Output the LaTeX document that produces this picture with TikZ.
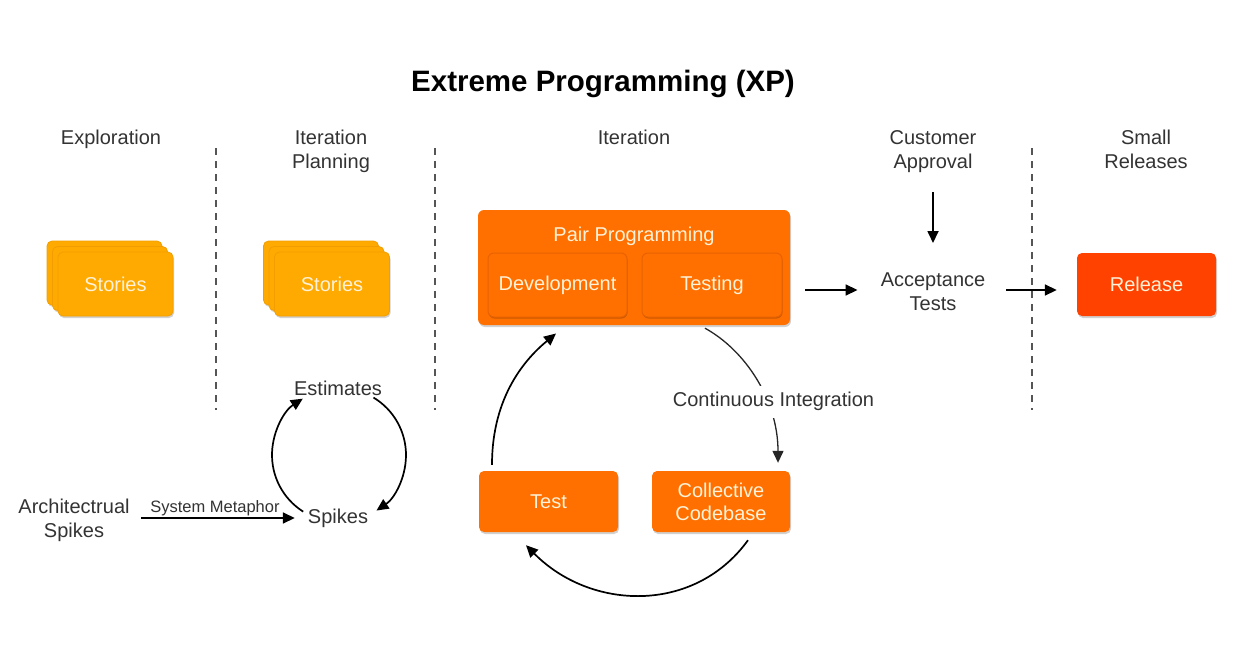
\documentclass[tikz,border=0pt]{standalone}
\usepackage{fontspec}
\setmainfont{Liberation Sans}
\usetikzlibrary{arrows.meta,shadows,calc}
\definecolor{storyc}{HTML}{FFAA00}
\definecolor{storyd}{HTML}{F29E00}
\definecolor{orangec}{HTML}{FF7000}
\definecolor{oranged}{HTML}{E86200}
\definecolor{relc}{HTML}{FF4200}
\definecolor{boxtxt}{HTML}{FFF2D8}
\definecolor{txtc}{HTML}{333333}
\definecolor{sepc}{HTML}{555555}
\begin{document}
\begin{tikzpicture}[x=1pt,y=1pt,
  lbl/.style={text=txtc, font=\fontsize{20}{24}\selectfont, align=center, inner sep=0pt},
  shad/.style={drop shadow={shadow xshift=1pt, shadow yshift=-2pt, fill=black, opacity=0.18}},
  card/.style={rounded corners=5pt, fill=storyc, draw=storyd, line width=0.8pt, minimum width=115pt, minimum height=64pt, text=boxtxt, font=\fontsize{20}{24}\selectfont, inner sep=0pt, shad},
  ppbox/.style={rounded corners=6pt, fill=orangec, minimum width=312pt, minimum height=115pt, inner sep=0pt, shad},
  inbox/.style={rounded corners=6pt, fill=orangec, draw=oranged, line width=1pt, minimum width=139pt, minimum height=64pt, text=boxtxt, font=\fontsize{20}{24}\selectfont, inner sep=0pt, drop shadow={shadow xshift=0.5pt, shadow yshift=-1.5pt, fill=black, opacity=0.2}},
  cbox/.style={rounded corners=5pt, fill=orangec, minimum width=139pt, minimum height=61pt, text=boxtxt, font=\fontsize{20}{23}\selectfont, align=center, inner sep=0pt, shad},
  relbox/.style={rounded corners=5pt, fill=relc, minimum width=139pt, minimum height=63pt, text=boxtxt, font=\fontsize{20}{24}\selectfont, inner sep=0pt, shad},
  arr/.style={-{Triangle[length=12pt,width=11pt]}, line width=1.7pt, black},
  thinarr/.style={-{Triangle[length=12pt,width=11pt]}, line width=1.3pt, black!85},
  sepline/.style={sepc, line width=1.3pt, dash pattern=on 7pt off 6pt}
]
\useasboundingbox (0,0) rectangle (1247,-661);
\fill[white] (0,0) rectangle (1247,-661);

% title and phase labels
\node[lbl, anchor=base, text=black] (title) at (603,-91) {\fontsize{29.5}{34}\selectfont\bfseries Extreme Programming (XP)};
\node[lbl, anchor=base] (explo) at (111,-144) {Exploration};
\node[lbl, anchor=base] (itplan) at (331,-168) {Iteration\\Planning};
\node[lbl, anchor=base] (iter) at (634,-144) {Iteration};
\node[lbl, anchor=base] (cust) at (933,-168) {Customer\\Approval};
\node[lbl, anchor=base] (small) at (1146,-168) {Small\\Releases};

% separators
\draw[sepline] (216,-148) -- (216,-410);
\draw[sepline] (435,-148) -- (435,-410);
\draw[sepline] (1032,-148) -- (1032,-410);

% stories stacks
\node[card] (s1c) at (104.5,-273) {};
\node[card] (s1b) at (110,-278.5) {};
\node[card] (s1) at (115.5,-284) {Stories};
\node[card] (s2c) at (321,-273) {};
\node[card] (s2b) at (326.5,-278.5) {};
\node[card] (s2) at (332,-284) {Stories};

% pair programming
\node[ppbox] (pp) at (634,-267.5) {};
\node[lbl, text=boxtxt] (pptitle) at (634,-236) {Pair Programming};
\node[inbox] (dev) at (557.5,-285) {Development};
\node[inbox, minimum width=140pt] (testing) at (712,-285) {Testing};

% acceptance and release
\node[lbl, anchor=base] (acc) at (933,-310) {Acceptance\\Tests};
\node[relbox] (rel) at (1146.5,-284.5) {Release};
\draw[arr] ([xshift=15pt,yshift=-22.5pt]pp.east) -- ($(acc.base west)+(-23,20)$);
\draw[arr] ($(cust.base)+(0,-24)$) -- ($(acc.base)+(0,67)$);
\draw[arr] ($(acc.base east)+(21,20)$) -- ($(rel.west)+(-20,-5.5)$);

% estimates / spikes loop
\node[lbl, anchor=base] (est) at (338,-395) {Estimates};
\node[lbl, anchor=base] (spk) at (338,-523) {Spikes};
\coordinate (loop1) at (339,-455);
\draw[arr] ([shift={(237.7:67)}]loop1) arc[start angle=237.7, end angle=122.7, radius=67];
\draw[arr] ([shift={(59:67)}]loop1) arc[start angle=59, end angle=-56, radius=67];

\node[lbl, anchor=base] (arch) at (74,-537) {Architectrual\\Spikes};
\draw[arr] ($(arch.base east)+(11.5,19)$) -- ($(spk.base west)+(-13,5)$)
  node[pos=0.48, anchor=base, yshift=6pt, text=txtc, font=\fontsize{16.5}{20}\selectfont, inner sep=0pt] (sm) {System Metaphor};

% iteration cycle
\node[cbox] (test) at (548.5,-501.5) {Test};
\node[cbox, minimum width=138pt] (cc) at (721,-501.5) {Collective\\Codebase};
\draw[arr] ([xshift=-56.5pt,yshift=6pt]test.north) .. controls +(0,70) and +(-29,-24) .. ([xshift=-1.5pt,yshift=-16pt]dev.south);
\draw[thinarr] ([xshift=71pt,yshift=-3pt]pp.south) .. controls +(40,-22) and +(0,63) .. ([xshift=57pt,yshift=8pt]cc.north);
\node[lbl, fill=white, text height=14.5pt, text depth=4.5pt, inner ysep=6.5pt, inner xsep=2pt] (ci) at (773.5,-401.5) {Continuous Integration};
\draw[arr] ([xshift=27pt,yshift=-8pt]cc.south) .. controls +(-54,-74.5) and +(64,-65) .. ([xshift=-22.5pt,yshift=-13pt]test.south);
\end{tikzpicture}
\end{document}
